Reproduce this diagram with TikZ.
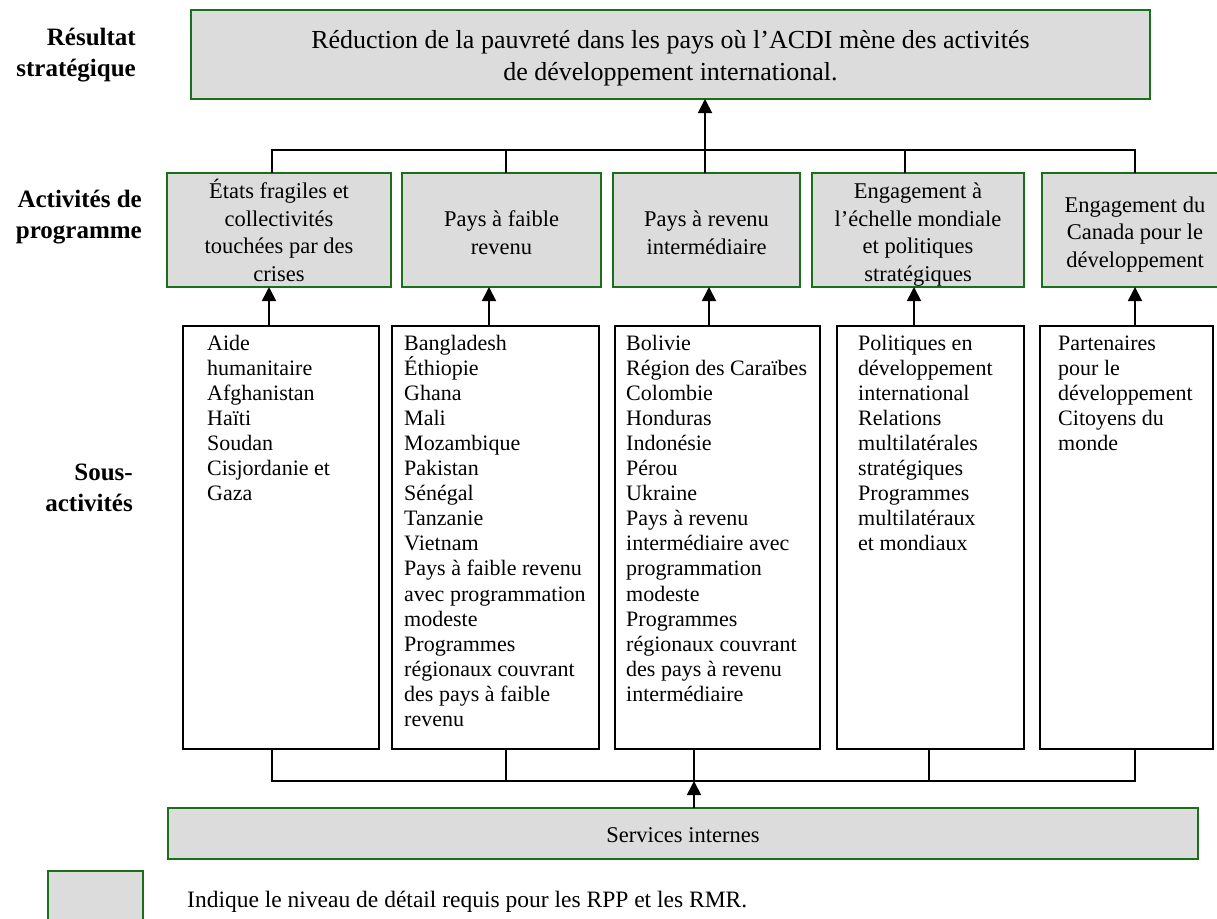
\documentclass[tikz,border=0pt]{standalone}
\usepackage{fontspec}
\setmainfont{Liberation Serif}
\usetikzlibrary{arrows.meta,calc}
\definecolor{boxgreen}{RGB}{24,112,24}
\definecolor{boxgray}{RGB}{220,220,220}
\begin{document}
\begin{tikzpicture}[x=1pt,y=-1pt,
  gbox/.style={draw=boxgreen,line width=1.6pt,fill=boxgray,inner sep=0pt,outer sep=0pt},
  wbox/.style={draw=black,line width=1.6pt,fill=white,inner sep=0pt,outer sep=0pt},
  conn/.style={line width=1.8pt},
  connb/.style={line width=2.6pt},
  arr/.style={line width=1.8pt,-{Triangle[length=14pt,width=14pt]}},
  lbl/.style={font=\fontsize{25}{31}\selectfont\bfseries,align=right,inner sep=0pt,anchor=base east},
  ttxt/.style={font=\fontsize{26}{32}\selectfont,align=center,inner sep=0pt,anchor=base},
  ptxt/.style={font=\fontsize{22.5}{27.5}\selectfont,align=center,inner sep=0pt,anchor=base},
  stxt/.style={font=\fontsize{22}{25.1}\selectfont,align=left,inner sep=0pt,anchor=base west},
]
\useasboundingbox (0,0) rectangle (1217,918);

% row labels (anchor = baseline of last line)
\node[lbl] (l1) at (136,76) {Résultat\\stratégique};
\node[lbl] (l2) at (142,238) {Activités de\\programme};
\node[lbl] (l3) at (133,511) {Sous-\\activités};

% strategic outcome
\node[gbox,minimum width=959pt,minimum height=89pt] (top) at (670.5,54.5) {};
\node[ttxt] (toptxt) at (670.5,80) {Réduction de la pauvreté dans les pays où l’ACDI  mène des activités\\de développement international.};

% program activities
\node[gbox,minimum width=224pt,minimum height=114pt] (p1) at (279,230) {};
\node[gbox,minimum width=199pt,minimum height=114pt] (p2) at (501.5,230) {};
\node[gbox,minimum width=187pt,minimum height=114pt] (p3) at (706.5,230) {};
\node[gbox,minimum width=212pt,minimum height=114pt] (p4) at (918,230) {};
\node[gbox,minimum width=186pt,minimum height=114pt] (p5) at (1135,230) {};
\node[ptxt] (p1t) at (279,281) {États fragiles et\\collectivités\\touchées par des\\crises};
\node[ptxt] (p2t) at (501.5,254) {Pays à faible\\revenu};
\node[ptxt] (p3t) at (706.5,254) {Pays à revenu\\intermédiaire};
\node[ptxt] (p4t) at (918,281) {Engagement à\\l’échelle mondiale\\et politiques\\stratégiques};
\node[ptxt] (p5t) at (1135,267) {Engagement du\\Canada pour le\\développement};

% sub-activities
\node[wbox,minimum width=196pt,minimum height=423pt] (s1) at (281,537.5) {};
\node[wbox,minimum width=207pt,minimum height=423pt] (s2) at (495.5,537.5) {};
\node[wbox,minimum width=205pt,minimum height=423pt] (s3) at (717.5,537.5) {};
\node[wbox,minimum width=187pt,minimum height=423pt] (s4) at (930.5,537.5) {};
\node[wbox,minimum width=173pt,minimum height=423pt] (s5) at (1126.5,537.5) {};
\node[stxt] (s1t) at (207,500.6) {Aide\\humanitaire\\Afghanistan\\Haïti\\Soudan\\Cisjordanie et\\Gaza};
\node[stxt] (s2t) at (404,726.5) {Bangladesh\\Éthiopie\\Ghana\\Mali\\Mozambique\\Pakistan\\Sénégal\\Tanzanie\\Vietnam\\Pays à faible revenu\\avec programmation\\modeste\\Programmes\\régionaux couvrant\\des pays à faible\\revenu};
\node[stxt] (s3t) at (626,701.4) {Bolivie\\Région des Caraïbes\\Colombie\\Honduras\\Indonésie\\Pérou\\Ukraine\\Pays à revenu\\intermédiaire avec\\programmation\\modeste\\Programmes\\régionaux couvrant\\des pays à revenu\\intermédiaire};
\node[stxt] (s4t) at (858,550.8) {Politiques en\\développement\\international\\Relations\\multilatérales\\stratégiques\\Programmes\\multilatéraux\\et mondiaux};
\node[stxt] (s5t) at (1058,450.4) {Partenaires\\pour le\\développement\\Citoyens du\\monde};

% internal services
\node[gbox,minimum width=1030pt,minimum height=51pt] (serv) at (683,833.5) {};
\node[ptxt] (servt) at (683,842) {Services internes};

% legend
\node[gbox,minimum width=95pt,minimum height=56pt] (leg) at (95.5,899) {};
\node[font=\fontsize{23.5}{27}\selectfont,inner sep=0pt,anchor=base west] (legt) at (187,907) {Indique le niveau de détail requis pour  les RPP et les RMR.};

% connectors: program activities -> strategic outcome
\coordinate (jt) at (705,150);
\draw[conn] ([xshift=-7pt]p1.north) |- (jt) -| (p5.north);
\draw[conn] ([xshift=4.5pt]p2.north) -- ([xshift=4.5pt]p2.north |- jt);
\draw[conn] ([xshift=-1.5pt]p3.north) -- ([xshift=-1.5pt]p3.north |- jt);
\draw[conn] ([xshift=-13pt]p4.north) -- ([xshift=-13pt]p4.north |- jt);
\draw[arr] (jt) -- (jt |- top.south);

% sub-activities -> program activities
\draw[arr] ([xshift=-12pt]s1.north) -- ([xshift=-12pt]s1.north |- p1.south);
\draw[arr] ([xshift=-6.5pt]s2.north) -- ([xshift=-6.5pt]s2.north |- p2.south);
\draw[arr] ([xshift=-8.5pt]s3.north) -- ([xshift=-8.5pt]s3.north |- p3.south);
\draw[arr] ([xshift=-16.5pt]s4.north) -- ([xshift=-16.5pt]s4.north |- p4.south);
\draw[arr] ([xshift=8.5pt]s5.north) -- ([xshift=8.5pt]s5.north |- p5.south);

% internal services -> sub-activities
\coordinate (jb) at (694,781);
\draw[connb] ([xshift=-9pt]s1.south) |- (jb) -| ([xshift=8.5pt]s5.south);
\draw[conn] ([xshift=10.5pt]s2.south) -- ([xshift=10.5pt]s2.south |- jb);
\draw[conn] ([xshift=-23.5pt]s3.south) -- ([xshift=-23.5pt]s3.south |- jb);
\draw[conn] ([xshift=-1.5pt]s4.south) -- ([xshift=-1.5pt]s4.south |- jb);
\draw[arr] (jb |- serv.north) -- (jb);
\end{tikzpicture}
\end{document}
